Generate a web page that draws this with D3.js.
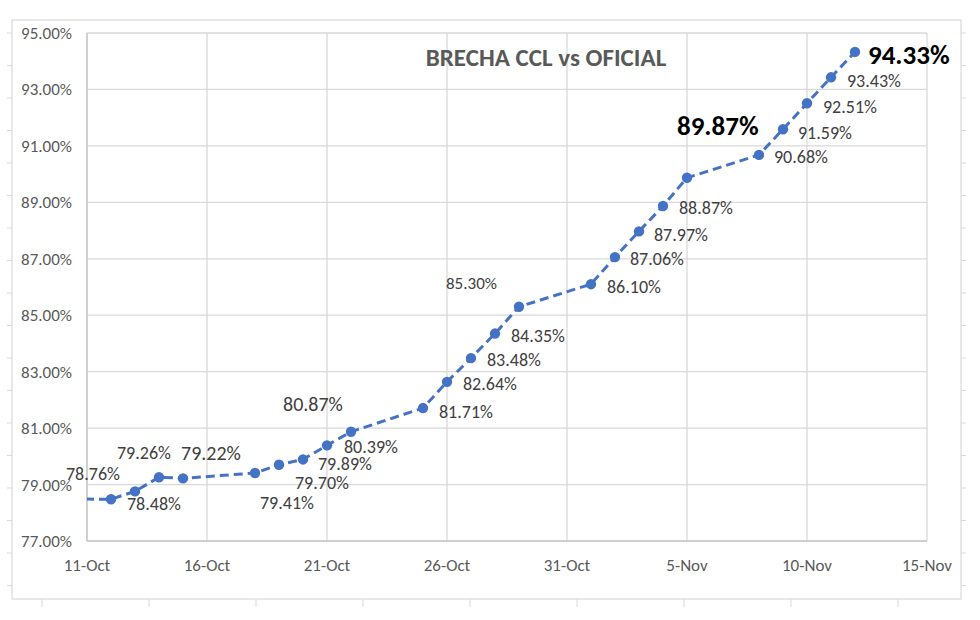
<!DOCTYPE html>
<html><head><meta charset="utf-8">
<script src="https://cdn.jsdelivr.net/npm/d3@7/dist/d3.min.js"></script>
<style>
html,body{margin:0;padding:0;background:#fff;}
svg{display:block;}
text{font-family:"Liberation Sans Narrow","Carlito","Calibri","Liberation Sans",Arial,sans-serif;}
</style></head>
<body><svg id="c" width="980" height="620"></svg>
<script>
// ---- data ----
const dates = ["2021-10-08","2021-10-12","2021-10-13","2021-10-14","2021-10-15","2021-10-18","2021-10-19","2021-10-20","2021-10-21","2021-10-22","2021-10-25","2021-10-26","2021-10-27","2021-10-28","2021-10-29","2021-11-01","2021-11-02","2021-11-03","2021-11-04","2021-11-05","2021-11-08","2021-11-09","2021-11-10","2021-11-11","2021-11-12"];
const values = [78.50,78.48,78.76,79.26,79.22,79.41,79.70,79.89,80.39,80.87,81.71,82.64,83.48,84.35,85.30,86.10,87.06,87.97,88.87,89.87,90.68,91.59,92.51,93.43,94.33];
const yTicks = [77,79,81,83,85,87,89,91,93,95];
const xDomain = ["2021-10-11","2021-11-15"];
const title = "BRECHA CCL vs OFICIAL";

// ---- label layout (offsets from point: left x, centre y; size; weight) ----
const labelLayout = [
  null,
  [16,4,18,400],[-69,-18,18,400],[-42,-25,18,400],[-2,-25,20,400],
  [5,30,18,400],[16,18,18,400],[15,4,18,400],[17,1,18,400],[-68,-28,20,400],
  [16,4,18,400],[16,2,18,400],[16,2,18,400],[16,2,18,400],[-73,-24,17,400],
  [16,3,18,400],[15,2,18,400],[15,3,18,400],[16,2,18,400],[-10,-52,27,700],
  [15,2,18,400],[15,3,18,400],[16,3,18,400],[16,3,18,400],[13,3,27,700]
];

const svg = d3.select("#c");
const M = {l:87, r:927, t:33, b:541};
const parse = d3.utcParse("%Y-%m-%d");
const data = dates.map((d,i)=>({d:parse(d), v:values[i], lab:labelLayout[i]}));

const x = d3.scaleUtc().domain(xDomain.map(parse)).range([M.l, M.r]);
const y = d3.scaleLinear().domain([77,95]).range([M.b, M.t]);
const pct = d3.format(".2%");

// outer frame + decorative ticks
svg.append("rect").attr("x",12).attr("y",20).attr("width",949).attr("height",579)
  .attr("fill","none").attr("stroke","#d9d9d9").attr("stroke-width",1.2);
const fy = d3.scaleLinear().domain([0,17]).range([33,585.5]);
const fx = d3.scaleLinear().domain([0,8]).range([42,898]);
d3.range(18).forEach(k=>{
  svg.append("line").attr("x1",7).attr("x2",12).attr("y1",fy(k)).attr("y2",fy(k)).attr("stroke","#d9d9d9");
  svg.append("line").attr("x1",961).attr("x2",966).attr("y1",fy(k)).attr("y2",fy(k)).attr("stroke","#d9d9d9");
});
d3.range(9).forEach(k=>{
  svg.append("line").attr("x1",fx(k)).attr("x2",fx(k)).attr("y1",599).attr("y2",607).attr("stroke","#d9d9d9");
});

// grid
const xTickVals = d3.utcDay.range(parse(xDomain[0]), d3.utcDay.offset(parse(xDomain[1]),1), 5);
const g = svg.append("g");
g.selectAll("line.h").data(yTicks).join("line")
  .attr("x1",M.l).attr("x2",M.r).attr("y1",d=>y(d)).attr("y2",d=>y(d))
  .attr("stroke","#d9d9d9").attr("stroke-width",1.3);
g.selectAll("line.v").data(xTickVals).join("line")
  .attr("x1",d=>x(d)).attr("x2",d=>x(d)).attr("y1",M.t).attr("y2",M.b)
  .attr("stroke","#d9d9d9").attr("stroke-width",1.3);
// axis lines
svg.append("line").attr("x1",M.l).attr("x2",M.l).attr("y1",M.t).attr("y2",M.b).attr("stroke","#c8c8c8").attr("stroke-width",1.5);
svg.append("line").attr("x1",M.l).attr("x2",M.r).attr("y1",M.b).attr("y2",M.b).attr("stroke","#c8c8c8").attr("stroke-width",1.5);

// axis labels
svg.append("g").selectAll("text").data(yTicks).join("text")
  .attr("x",72).attr("y",d=>y(d)).attr("dy","0.35em").attr("text-anchor","end")
  .attr("font-size",17).attr("fill","#595959").text(d=>pct(d/100));
const fmt = d3.utcFormat("%-d-%b");
svg.append("g").selectAll("text").data(xTickVals).join("text")
  .attr("x",d=>x(d)).attr("y",565).attr("dy","0.35em").attr("text-anchor","middle")
  .attr("font-size",17).attr("fill","#595959").text(d=>fmt(d));

// title
svg.append("text").attr("x",546).attr("y",57).attr("dy","0.35em").attr("text-anchor","middle")
  .attr("font-size",25).attr("font-weight",700).attr("fill","#595959").text(title);

// line
svg.append("clipPath").attr("id","clip").append("rect")
  .attr("x",M.l).attr("y",M.t-20).attr("width",M.r-M.l).attr("height",M.b-M.t+20);
const line = d3.line().x(d=>x(d.d)).y(d=>y(d.v));
svg.append("path").datum(data).attr("d",line).attr("clip-path","url(#clip)")
  .attr("fill","none").attr("stroke","#4472C4").attr("stroke-width",3)
  .attr("stroke-dasharray","9,5");
const vis = data.filter(d=>d.d>=x.domain()[0]);
svg.append("g").selectAll("circle").data(vis).join("circle")
  .attr("cx",d=>x(d.d)).attr("cy",d=>y(d.v)).attr("r",5.2).attr("fill","#4472C4");

// labels
svg.append("g").selectAll("text").data(vis).join("text")
  .attr("x",d=>x(d.d)+d.lab[0]).attr("y",d=>y(d.v)+d.lab[1]).attr("dy","0.35em")
  .attr("font-size",d=>d.lab[2]).attr("font-weight",d=>d.lab[3])
  .attr("fill",d=>d.lab[3]===700?"#000":"#404040").text(d=>pct(d.v/100));
</script></body></html>
